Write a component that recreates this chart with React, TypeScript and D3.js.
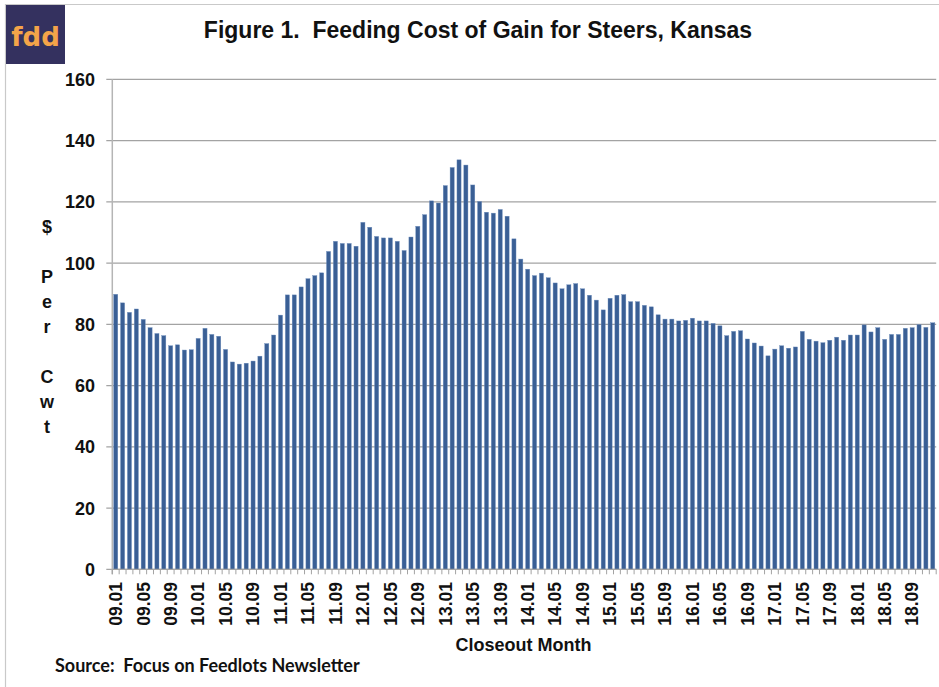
import React, { useEffect } from 'react';
import * as d3 from 'd3';

// closeout years and months (09.01 .. 18.12)
const years = ["09", "10", "11", "12", "13", "14", "15", "16", "17", "18"];
const monthCodes = ["01", "02", "03", "04", "05", "06", "07", "08", "09", "10", "11", "12"];

// $ per cwt, one value per closeout month
const costOfGain = [
  89.8, 87.0, 83.9, 85.0, 81.6, 78.9, 77.0, 76.3, 73.0, 73.3, 71.6, 71.7,
  75.4, 78.7, 76.7, 76.1, 71.8, 67.7, 67.0, 67.3, 68.0, 69.6, 73.7, 76.5,
  83.0, 89.6, 89.6, 92.2, 94.9, 95.9, 96.8, 103.8, 107.1, 106.4, 106.4, 105.5,
  113.3, 111.7, 108.7, 108.2, 108.2, 107.1, 104.1, 108.5, 112.0, 115.8, 120.3, 119.6,
  125.3, 131.2, 133.7, 132.0, 125.5, 120.1, 116.6, 116.3, 117.5, 115.3, 107.9, 101.3,
  98.0, 95.9, 96.7, 95.2, 93.5, 91.6, 92.9, 93.3, 91.6, 89.5, 87.9, 84.7,
  88.5, 89.5, 89.7, 87.4, 87.4, 86.2, 85.7, 83.1, 81.7, 81.7, 81.1, 81.3,
  82.0, 81.1, 81.1, 80.3, 79.5, 76.3, 77.7, 77.9, 75.2, 73.9, 72.9, 69.7,
  71.9, 73.0, 72.2, 72.6, 77.7, 75.1, 74.5, 74.0, 74.8, 75.8, 74.8, 76.5,
  76.5, 79.8, 77.5, 78.9, 75.1, 76.7, 76.7, 78.7, 78.9, 79.9, 79.0, 80.5,
];

const yTicks = [0, 20, 40, 60, 80, 100, 120, 140, 160];

const months: string[] = [];
years.forEach(y => monthCodes.forEach(m => months.push(`${y}.${m}`)));
const shownMonths = months.filter((_, i) => i % 4 === 0);

const W = 939;
const H = 687;

const App: React.FC = () => {
  const svgRef = React.useRef<SVGSVGElement>(null);

  useEffect(() => {
    const svg = d3.select(svgRef.current);
    svg.selectAll("*").remove();

    const plot = { left: 112.3, right: 936.2, top: 79.3, bottom: 569.3 };
    const font = "'Liberation Sans', Arial, sans-serif";

    const x = d3.scaleBand<string>()
      .domain(months)
      .range([plot.left, plot.right])
      .paddingInner(0.4)
      .paddingOuter(0.2);

    const y = d3.scaleLinear().domain([0, 160]).range([plot.bottom, plot.top]);

    svg.append("rect").attr("width", W).attr("height", H).attr("fill", "white");

    // outer frame
    svg.append("path")
      .attr("d", `M5.5,${H} V4.5 H${W}`)
      .attr("fill", "none")
      .attr("stroke", "#c9c9c9")
      .attr("stroke-width", 1.2);

    // logo
    svg.append("rect")
      .attr("x", 6).attr("y", 5).attr("width", 59).attr("height", 59)
      .attr("fill", "#34315f");
    svg.append("text")
      .attr("x", 35.5).attr("y", 46)
      .attr("text-anchor", "middle")
      .style("font-family", "'DejaVu Sans', sans-serif")
      .style("font-size", "26px")
      .style("font-weight", "bold")
      .style("fill", "#f4a449")
      .text("fdd");

    // title
    svg.append("text")
      .attr("x", 478).attr("y", 38)
      .attr("text-anchor", "middle")
      .style("font-family", font)
      .style("font-size", "23px")
      .style("font-weight", "bold")
      .style("white-space", "pre")
      .style("fill", "#111")
      .text("Figure 1.  Feeding Cost of Gain for Steers, Kansas");

    // horizontal gridlines + y ticks
    svg.append("g")
      .selectAll("line")
      .data(yTicks)
      .enter()
      .append("line")
      .attr("x1", plot.left - 6)
      .attr("x2", plot.right)
      .attr("y1", d => y(d))
      .attr("y2", d => y(d))
      .attr("stroke", "#a3a3a3")
      .attr("stroke-width", 1.3);

    // y axis line
    svg.append("line")
      .attr("x1", plot.left).attr("x2", plot.left)
      .attr("y1", plot.top).attr("y2", plot.bottom + 5)
      .attr("stroke", "#b5b5b5")
      .attr("stroke-width", 1.5);

    // y tick labels
    svg.append("g")
      .selectAll("text")
      .data(yTicks)
      .enter()
      .append("text")
      .attr("x", 95)
      .attr("y", d => y(d))
      .attr("dy", "0.36em")
      .attr("text-anchor", "end")
      .style("font-family", font)
      .style("font-size", "18px")
      .style("font-weight", "bold")
      .style("fill", "#111")
      .text(d => d);

    // bars
    svg.append("g")
      .selectAll("rect")
      .data(costOfGain)
      .enter()
      .append("rect")
      .attr("x", (_, i) => x(months[i]) as number)
      .attr("y", d => y(d))
      .attr("width", x.bandwidth())
      .attr("height", d => plot.bottom - y(d))
      .attr("fill", "#3a5f95")
      .attr("stroke", "#6f8fbd")
      .attr("stroke-width", 0.4);

    // x axis line and small ticks between bars
    svg.append("line")
      .attr("x1", plot.left).attr("x2", plot.right)
      .attr("y1", plot.bottom).attr("y2", plot.bottom)
      .attr("stroke", "#a3a3a3")
      .attr("stroke-width", 1.3);

    const step = x.step();
    svg.append("g")
      .selectAll("line")
      .data(d3.range(months.length + 1))
      .enter()
      .append("line")
      .attr("x1", i => plot.left + i * step)
      .attr("x2", i => plot.left + i * step)
      .attr("y1", plot.bottom)
      .attr("y2", plot.bottom + 5)
      .attr("stroke", "#a3a3a3")
      .attr("stroke-width", 1);

    // x tick labels
    svg.append("g")
      .selectAll("text")
      .data(shownMonths)
      .enter()
      .append("text")
      .attr("transform", d => `translate(${(x(d) as number) + x.bandwidth() / 2},582) rotate(-90)`)
      .attr("dy", "0.36em")
      .attr("text-anchor", "end")
      .style("font-family", font)
      .style("font-size", "17.5px")
      .style("font-weight", "bold")
      .style("fill", "#111")
      .text(d => d);

    // y axis label, one letter per line
    svg.append("g")
      .selectAll("text")
      .data("$ Per Cwt".split(""))
      .enter()
      .append("text")
      .attr("x", 47)
      .attr("y", (_, i) => 226.7 + i * 25)
      .attr("dy", "0.36em")
      .attr("text-anchor", "middle")
      .style("font-family", font)
      .style("font-size", "18px")
      .style("font-weight", "bold")
      .style("fill", "#111")
      .text(d => d);

    // x axis title
    svg.append("text")
      .attr("x", 523.5).attr("y", 651)
      .attr("text-anchor", "middle")
      .style("font-family", font)
      .style("font-size", "18px")
      .style("font-weight", "bold")
      .style("fill", "#111")
      .text("Closeout Month");

    // source
    svg.append("text")
      .attr("x", 55).attr("y", 672)
      .style("font-family", "Lato, 'Open Sans', sans-serif")
      .style("font-size", "18px")
      .style("font-weight", "bold")
      .style("white-space", "pre")
      .style("fill", "#111")
      .text("Source:  Focus on Feedlots Newsletter");
  }, []);

  return (
    <div style={{ position: "absolute", left: 0, top: 0 }}>
      <svg ref={svgRef} width={W} height={H} style={{ display: "block" }}></svg>
    </div>
  );
};

export default App;
